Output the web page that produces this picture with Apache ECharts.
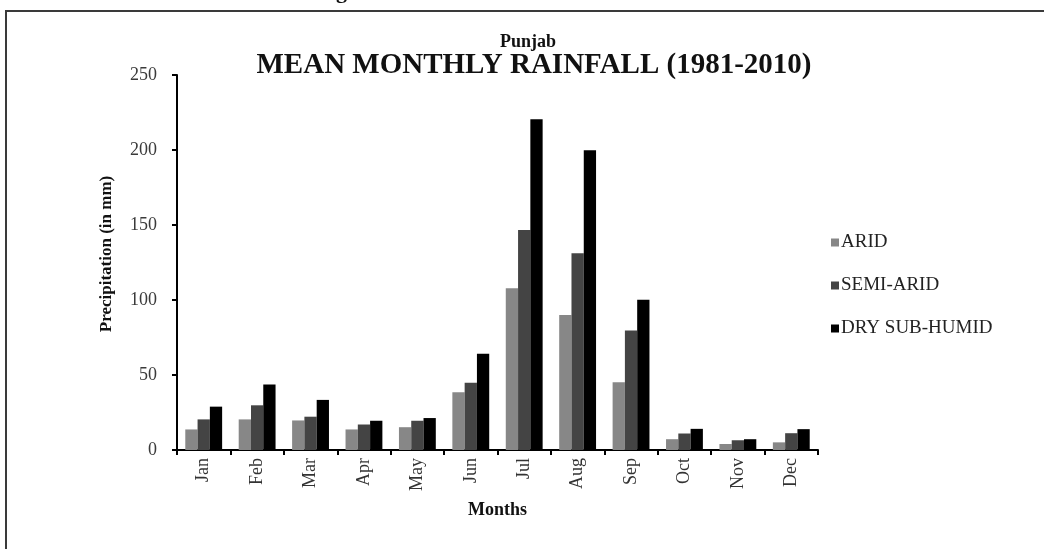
<!DOCTYPE html>
<html>
<head>
<meta charset="utf-8">
<script src="https://cdn.jsdelivr.net/npm/echarts@6/dist/echarts.min.js"></script>
<style>
html,body{margin:0;padding:0;background:#fff;}
#chart{width:1044px;height:549px;}
</style>
</head>
<body>
<div id="chart"></div>
<script>
const months = ['Jan','Feb','Mar','Apr','May','Jun','Jul','Aug','Sep','Oct','Nov','Dec'];
const arid = [13.7, 20.4, 19.7, 13.7, 15.2, 38.5, 107.9, 90.0, 45.2, 7.2, 4.0, 5.1];
const semiArid = [20.4, 29.8, 22.2, 17.0, 19.5, 44.8, 146.6, 131.2, 79.7, 11.0, 6.5, 11.2];
const drySubHumid = [28.9, 43.7, 33.4, 19.5, 21.3, 64.2, 220.5, 199.9, 100.1, 14.1, 7.2, 13.9];
const seriesNames = ['ARID', 'SEMI-ARID', 'DRY SUB-HUMID'];
const yTicks = [0, 50, 100, 150, 200, 250];

const serif = '"Liberation Serif", "DejaVu Serif", serif';
const chart = echarts.init(document.getElementById('chart'), null, {renderer: 'canvas'});
const colors = ['#878787', '#444444', '#000000'];
const data = [arid, semiArid, drySubHumid];

chart.setOption({
  animation: false,
  backgroundColor: '#ffffff',
  title: [
    {text: 'Punjab', left: 523, top: 28, textAlign: 'center',
     textStyle: {fontFamily: serif, fontWeight: 'bold', fontSize: 18, color: '#111'}},
    {text: 'MEAN MONTHLY RAINFALL (1981-2010)', left: 529, top: 46, textAlign: 'center',
     textStyle: {fontFamily: serif, fontWeight: 'bold', fontSize: 29, color: '#111'}}
  ],
  legend: {
    orient: 'vertical', left: 826, top: 228,
    itemWidth: 8, itemHeight: 8, itemGap: 24,
    icon: 'rect',
    data: seriesNames,
    textStyle: {fontFamily: serif, fontSize: 19, color: '#222', padding: [0,0,0,-3]}
  },
  grid: {left: 177, right: 226, top: 75, bottom: 99},
  xAxis: {
    type: 'category', data: months,
    name: 'Months', nameLocation: 'middle', nameGap: 51,
    nameTextStyle: {fontFamily: serif, fontWeight: 'bold', fontSize: 18, color: '#111'},
    axisLine: {lineStyle: {color: '#000', width: 2}},
    axisTick: {show: true, length: 5, lineStyle: {color: '#000', width: 2}},
    axisLabel: {rotate: 90, margin: 8, fontFamily: serif, fontSize: 18, color: '#333'}
  },
  yAxis: {
    type: 'value', min: yTicks[0], max: yTicks[yTicks.length-1], interval: 50,
    axisLine: {show: true, lineStyle: {color: '#000', width: 2}},
    axisTick: {show: true, length: 5, lineStyle: {color: '#000', width: 2}},
    axisLabel: {margin: 20, fontFamily: serif, fontSize: 18, color: '#3a3a3a'},
    splitLine: {show: false}
  },
  series: seriesNames.map((n, i) => ({
    name: n, type: 'bar', data: data[i],
    barGap: '0%', barCategoryGap: '31%',
    itemStyle: {color: colors[i]}
  })),
  graphic: [
    {type: 'rect', shape: {x: 6, y: 11, width: 1200, height: 700},
     style: {fill: 'none', stroke: '#3a3a3a', lineWidth: 2}, silent: true},
    {type: 'text', x: 336, y: -19,
     style: {text: 'g', font: 'bold 22px "Liberation Serif", serif', fill: '#111', verticalAlign: 'top'}},
    {type: 'text', x: 107, y: 254, rotation: Math.PI / 2,
     style: {text: 'Precipitation (in mm)', font: 'bold 17px "Liberation Serif", serif', fill: '#111',
             align: 'center', verticalAlign: 'middle'}}
  ]
});
</script>
</body>
</html>
